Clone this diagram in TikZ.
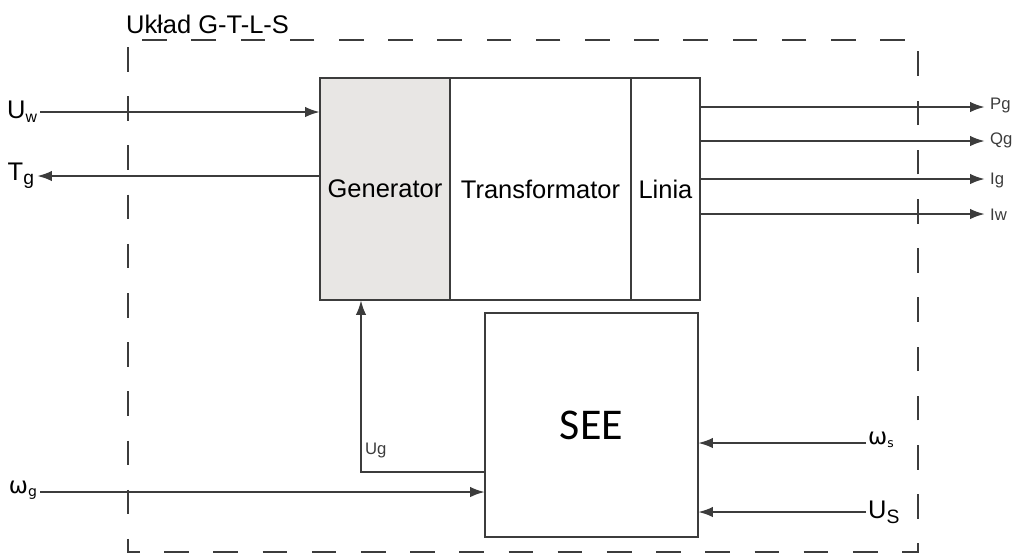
\documentclass[tikz,border=0pt]{standalone}
\usepackage{fontspec}
\setmainfont{Liberation Sans}
\newfontfamily\seefont{Carlito}
\usepackage{tikz}
\usetikzlibrary{arrows.meta}
\usetikzlibrary{positioning}
\definecolor{linegray}{HTML}{3C3C3C}
\definecolor{genfill}{HTML}{E8E6E4}
\tikzstyle{block}=[draw=linegray, line width=1.4pt, inner sep=0pt, outer sep=0pt, font=\fontsize{14.5}{16}\selectfont]
\tikzstyle{cblock}=[block, minimum height=4.44cm]
\tikzstyle{sig}=[inner sep=1pt, font=\fontsize{9.5}{10}\selectfont, text=linegray]
\tikzstyle{bigsig}=[inner sep=1pt, font=\fontsize{14.5}{16}\selectfont]
\tikzstyle{arr}=[draw=linegray, line width=1.4pt, -{Latex[length=8.5pt,width=6pt]}]

\begin{document}
\begin{tikzpicture}[x=0.02cm, y=-0.02cm]
        \useasboundingbox (0,0) rectangle (1016,556);
        \draw[linegray, line width=1.4pt, dash pattern=on 14pt off 14pt, dash phase=-4pt] (128,40) rectangle (918,552);
        \node[bigsig, anchor=south west] (uklad) at (124,36) {Układ G-T-L-S};

        \node[cblock, fill=genfill, minimum width=2.6cm] (gen) at (385,189) {Generator};
        \node[cblock, minimum width=3.62cm, right=0pt of gen] (trans) {Transformator};
        \node[cblock, minimum width=1.38cm, right=0pt of trans] (linia) {Linia};
        \node[block, minimum width=4.26cm, minimum height=4.48cm, font=\fontsize{25}{27}\seefont] (see) at (591.5,425) {SEE};

        \node[bigsig, anchor=east] (uw) at (40,112) {U\textsubscript{\fontsize{9}{10}\selectfont w}};
        \node[bigsig, anchor=east] (tg) at (37,176) {T\textsubscript{\fontsize{11}{12}\selectfont g}};
        \node[bigsig, anchor=east] (wg) at (40,490) {\fontspec{DejaVu Sans}\fontsize{13}{14}\selectfont ω\textsubscript{\fontsize{8}{9}\selectfont g}};
        \node[sig, anchor=west] (pg) at (988,105) {Pg};
        \node[sig, anchor=west] (qg) at (988,140) {Qg};
        \node[sig, anchor=west] (ig) at (988,180) {Ig};
        \node[sig, anchor=west] (iw) at (988,215) {Iw};
        \node[bigsig, anchor=west] (ws) at (866,440) {\fontspec{DejaVu Sans}\fontsize{13}{14}\selectfont ω\textsubscript{\fontsize{7}{8}\selectfont s}};
        \node[bigsig, anchor=west] (us) at (866,512) {U\textsubscript{\fontsize{11}{12}\selectfont S}};
        \node[sig, anchor=south west] (ug) at (363,460) {Ug};
        \coordinate (ugc) at (361,472);

        \draw[arr] (uw.east) -- (uw.east -| gen.west);
        \draw[arr] (gen.west |- tg.east) -- (tg.east);
        \draw[arr] (linia.east |- 0,107) -- (985,107);
        \draw[arr] (linia.east |- 0,141) -- (985,141);
        \draw[arr] (linia.east |- 0,179) -- (985,179);
        \draw[arr] (linia.east |- 0,214) -- (985,214);
        \draw[arr] (see.west |- ugc) -- (ugc) -- (ugc |- gen.south);
        \draw[arr] (wg.east |- 0,492) -- (see.west |- 0,492);
        \draw[arr] (ws.west |- 0,443) -- (see.east |- 0,443);
        \draw[arr] (us.west |- 0,512) -- (see.east |- 0,512);
    \end{tikzpicture}
\end{document}
